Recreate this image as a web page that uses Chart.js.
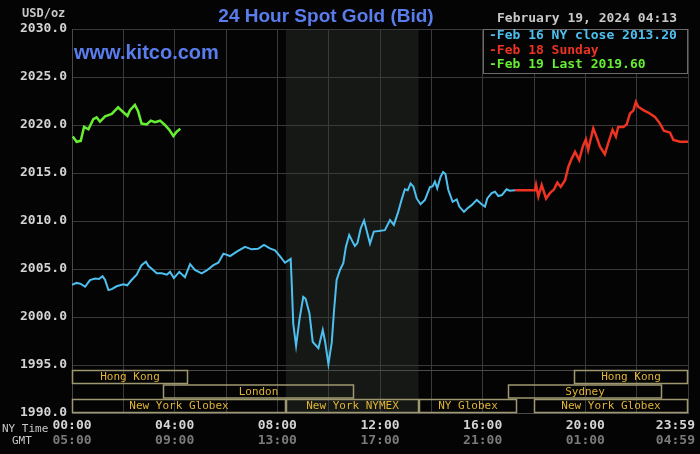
<!DOCTYPE html>
<html>
<head>
<meta charset="utf-8">
<title>24 Hour Spot Gold (Bid)</title>
<script src="https://cdn.jsdelivr.net/npm/chart.js@4.4.1/dist/chart.umd.min.js"></script>
<style>
    html, body { margin: 0; padding: 0; background: #040404; }
    #wrap { position: relative; width: 700px; height: 454px; }
</style>
</head>
<body>
<div id="wrap"><canvas id="goldChart" width="700" height="454"></canvas></div>
<script>
// Axis ticks
const hourTicks = [0, 4, 8, 12, 16, 20, 24];
const nyTimeLabels = ['00:00', '04:00', '08:00', '12:00', '16:00', '20:00', '23:59'];
const gmtLabels = ['05:00', '09:00', '13:00', '17:00', '21:00', '01:00', '04:59'];
const priceMin = 1990;
const priceMax = 2030;
const priceStep = 5;

// Feb 16 (blue)
const feb16Hours = [0.00, 0.18, 0.34, 0.51, 0.70, 0.90, 1.05, 1.19, 1.29, 1.42, 1.55, 1.74, 2.00, 2.15, 2.32, 2.52, 2.71, 2.88, 2.98, 3.14,
    3.30, 3.50, 3.69, 3.82, 3.97, 4.18, 4.40, 4.60, 4.79, 5.05, 5.25, 5.51, 5.70, 5.90, 6.16, 6.42, 6.74, 7.00, 7.25, 7.48,
    7.71, 7.91, 8.10, 8.30, 8.52, 8.56, 8.62, 8.73, 8.86, 9.01, 9.10, 9.25, 9.38, 9.60, 9.77, 9.86, 9.99, 10.12, 10.21, 10.31,
    10.44, 10.57, 10.67, 10.80, 10.92, 11.02, 11.12, 11.25, 11.38, 11.61, 11.76, 11.95, 12.19, 12.39, 12.54, 12.71, 12.84, 12.97, 13.08, 13.19,
    13.30, 13.43, 13.58, 13.75, 13.95, 14.05, 14.14, 14.23, 14.36, 14.46, 14.55, 14.66, 14.83, 14.99, 15.09, 15.27, 15.40, 15.57, 15.77, 15.96,
    16.09, 16.18, 16.35, 16.48, 16.61, 16.75, 16.93, 17.05, 17.26];
const feb16Values = [2003.35, 2003.55, 2003.45, 2003.15, 2003.85, 2004.0, 2003.95, 2004.25, 2003.85, 2002.8, 2002.9, 2003.2, 2003.4, 2003.3, 2003.85, 2004.4, 2005.4, 2005.75, 2005.3, 2004.95,
    2004.55, 2004.55, 2004.4, 2004.7, 2004.05, 2004.7, 2004.15, 2005.5, 2004.9, 2004.55, 2004.85, 2005.4, 2005.65, 2006.6, 2006.35, 2006.8, 2007.3, 2007.05, 2007.1, 2007.5,
    2007.15, 2006.95, 2006.35, 2005.65, 2006.05, 2003.6, 1999.3, 1997.0, 1999.7, 2002.1, 2001.9, 2000.4, 1997.4, 1996.75, 1998.65, 1997.45, 1995.1, 1997.35, 2000.7, 2003.85,
    2004.9, 2005.6, 2007.3, 2008.55, 2007.9, 2007.4, 2007.7, 2009.25, 2010.05, 2007.65, 2008.9, 2008.95, 2009.05, 2010.1, 2009.6, 2010.95, 2012.2, 2013.3, 2013.2, 2013.9,
    2013.6, 2012.35, 2011.75, 2012.2, 2013.55, 2013.6, 2014.1, 2013.4, 2014.6, 2015.1, 2014.9, 2013.25, 2012.0, 2012.25, 2011.5, 2010.95, 2011.3, 2011.65, 2012.2, 2011.75,
    2011.5, 2012.35, 2012.9, 2013.05, 2012.6, 2012.7, 2013.3, 2013.15, 2013.2];

// Feb 18 Sunday (red)
const feb18Hours = [17.26, 18.04, 18.08, 18.17, 18.30, 18.47, 18.62, 18.78, 18.91, 19.04, 19.21, 19.34, 19.47, 19.60, 19.76, 19.90, 20.02, 20.11, 20.18, 20.31,
    20.42, 20.57, 20.76, 20.89, 21.06, 21.19, 21.28, 21.48, 21.61, 21.74, 21.87, 21.97, 22.06, 22.26, 22.45, 22.71, 22.91, 23.06, 23.30, 23.43,
    23.69, 24.00];
const feb18Values = [2013.2, 2013.2, 2013.75, 2012.55, 2013.75, 2012.35, 2012.9, 2013.3, 2014.0, 2013.55, 2014.25, 2015.65, 2016.5, 2017.2, 2016.35, 2017.75, 2018.5, 2017.4, 2018.2, 2019.65,
    2018.9, 2017.75, 2016.95, 2018.1, 2019.5, 2018.8, 2019.8, 2019.8, 2020.05, 2021.2, 2021.5, 2022.4, 2021.9, 2021.55, 2021.3, 2020.85, 2020.15, 2019.4, 2019.2, 2018.45,
    2018.25, 2018.25];

// Feb 19 (green)
const feb19Hours = [0.03, 0.18, 0.34, 0.47, 0.64, 0.83, 0.96, 1.09, 1.29, 1.55, 1.80, 1.97, 2.16, 2.26, 2.45, 2.58, 2.71, 2.91, 3.07, 3.23,
    3.43, 3.62, 3.79, 3.95, 4.08, 4.22];
const feb19Values = [2018.8, 2018.25, 2018.35, 2019.8, 2019.55, 2020.6, 2020.8, 2020.35, 2020.9, 2021.15, 2021.85, 2021.4, 2020.95, 2021.55, 2022.1, 2021.4, 2020.15, 2020.05, 2020.45, 2020.3,
    2020.45, 2020.0, 2019.5, 2018.85, 2019.3, 2019.6];

// Trading sessions (row 0 = top)
const sessionNames = ['Hong Kong', 'London', 'New York Globex', 'New York NYMEX', 'NY Globex', 'Sydney', 'Hong Kong', 'New York Globex'];
const sessionStarts = [0, 3.55, 0, 8.333, 13.5, 17.0, 19.55, 18.0];
const sessionEnds = [4.5, 11.0, 8.333, 13.5, 17.33, 23.0, 24, 24];
const sessionRows = [0, 1, 2, 2, 2, 1, 0, 2];
const comexOpen = 8.333;
const comexClose = 13.5;

const legendLabels = ['-Feb 16 NY close 2013.20', '-Feb 18 Sunday', '-Feb 19 Last 2019.60'];
const legendColors = ['#4ec0f0', '#ee3322', '#66ee33'];

const MONO = '"DejaVu Sans Mono", monospace';

function toPoints(hours, values) {
    return hours.map((h, i) => ({ x: h, y: values[i] }));
}

// Background + COMEX shading under the grid
const backdropPlugin = {
    id: 'backdrop',
    beforeDraw(chart) {
        const { ctx, chartArea, scales } = chart;
        ctx.save();
        ctx.fillStyle = '#040404';
        ctx.fillRect(0, 0, chart.width, chart.height);
        const x0 = scales.x.getPixelForValue(comexOpen);
        const x1 = scales.x.getPixelForValue(comexClose);
        ctx.fillStyle = '#151815';
        ctx.fillRect(x0, chartArea.top, x1 - x0, chartArea.bottom - chartArea.top);
        ctx.restore();
    }
};

// Session boxes, legend, titles, time labels
const overlayPlugin = {
    id: 'overlay',
    afterDraw(chart) {
        const { ctx, chartArea, scales } = chart;
        const bottom = chartArea.bottom;
        ctx.save();

        // session band top line
        ctx.strokeStyle = '#4a4a4a';
        ctx.lineWidth = 1;
        ctx.beginPath();
        ctx.moveTo(chartArea.left, bottom - 42.5);
        ctx.lineTo(chartArea.right, bottom - 42.5);
        ctx.stroke();

        ctx.font = '11px ' + MONO;
        ctx.textAlign = 'center';
        ctx.textBaseline = 'middle';
        sessionNames.forEach((name, i) => {
            const xa = Math.round(scales.x.getPixelForValue(sessionStarts[i])) + 0.5;
            const xb = Math.round(scales.x.getPixelForValue(sessionEnds[i])) - 0.5;
            const top = bottom - 42.5 + sessionRows[i] * 14.5;
            ctx.strokeStyle = '#9e9870';
            ctx.lineWidth = 1.5;
            ctx.strokeRect(xa, top, xb - xa, 13);
            ctx.fillStyle = '#e0b434';
            ctx.fillText(name, (xa + xb) / 2, top + 7);
        });

        // legend box
        ctx.fillStyle = '#040404';
        ctx.fillRect(483, chartArea.top, chartArea.right - 483, 44);
        ctx.strokeStyle = '#6a6a6a';
        ctx.lineWidth = 1;
        ctx.strokeRect(483.5, chartArea.top + 0.5, chartArea.right - 484, 44);
        ctx.font = 'bold 13px ' + MONO;
        ctx.textAlign = 'left';
        legendLabels.forEach((t, i) => {
            ctx.fillStyle = legendColors[i];
            ctx.fillText(t, 489, chartArea.top + 7 + i * 14.5);
        });

        // titles
        ctx.fillStyle = '#5a7ded';
        ctx.font = 'bold 19px "Liberation Sans", Arial, sans-serif';
        ctx.textAlign = 'center';
        ctx.fillText('24 Hour Spot Gold (Bid)', 326, 17);
        ctx.textAlign = 'left';
        ctx.font = 'bold 20px "Liberation Sans", Arial, sans-serif';
        ctx.fillText('www.kitco.com', 74, 53);

        ctx.fillStyle = '#c8c8c8';
        ctx.font = 'bold 12px ' + MONO;
        ctx.fillText('USD/oz', 22, 14);
        ctx.font = 'bold 13px ' + MONO;
        ctx.textAlign = 'right';
        ctx.fillText('February 19, 2024 04:13', 677, 19);

        // time labels
        ctx.textAlign = 'left';
        ctx.font = '11px ' + MONO;
        ctx.fillStyle = '#c8c8c8';
        ctx.fillText('NY Time', 2, 429);
        ctx.fillText('GMT', 12, 441);
        hourTicks.forEach((h, i) => {
            let x = scales.x.getPixelForValue(h);
            const last = i === hourTicks.length - 1;
            ctx.textAlign = last ? 'right' : 'center';
            if (last) x += 7;
            ctx.font = 'bold 13px ' + MONO;
            ctx.fillStyle = '#d4d4d4';
            ctx.fillText(nyTimeLabels[i], x, 426);
            ctx.fillStyle = '#7a7a7a';
            ctx.fillText(gmtLabels[i], x, 441);
        });
        ctx.restore();
    }
};

const ctx = document.getElementById('goldChart').getContext('2d');
const goldChart = new Chart(ctx, {
    type: 'line',
    data: {
        datasets: [{
            label: 'Feb 16 NY close 2013.20',
            data: toPoints(feb16Hours, feb16Values),
            borderColor: '#4ec0f0',
            borderWidth: 2,
            pointRadius: 0,
            tension: 0
        }, {
            label: 'Feb 18 Sunday',
            data: toPoints(feb18Hours, feb18Values),
            borderColor: '#ee3322',
            borderWidth: 2.5,
            pointRadius: 0,
            tension: 0
        }, {
            label: 'Feb 19 Last 2019.60',
            data: toPoints(feb19Hours, feb19Values),
            borderColor: '#66ee33',
            borderWidth: 2.5,
            pointRadius: 0,
            tension: 0
        }]
    },
    options: {
        responsive: false,
        animation: false,
        layout: { padding: { top: 29, right: 12, bottom: 41, left: 0 } },
        plugins: {
            legend: { display: false },
            tooltip: { enabled: false }
        },
        scales: {
            x: {
                type: 'linear',
                min: 0,
                max: 24,
                ticks: { stepSize: 2, display: false },
                grid: { color: '#3a3a3a', drawTicks: false },
                border: { color: '#4a4a4a' },
                afterFit(scale) { scale.height = 0; }
            },
            y: {
                min: priceMin,
                max: priceMax,
                ticks: {
                    stepSize: priceStep,
                    color: '#d4d4d4',
                    font: { family: MONO, size: 13, weight: 'bold' },
                    padding: 5,
                    callback: v => v.toFixed(1)
                },
                grid: { color: '#3a3a3a', drawTicks: false },
                border: { color: '#4a4a4a' },
                afterFit(scale) { scale.width = 72; }
            }
        }
    },
    plugins: [backdropPlugin, overlayPlugin]
});
</script>
</body>
</html>
